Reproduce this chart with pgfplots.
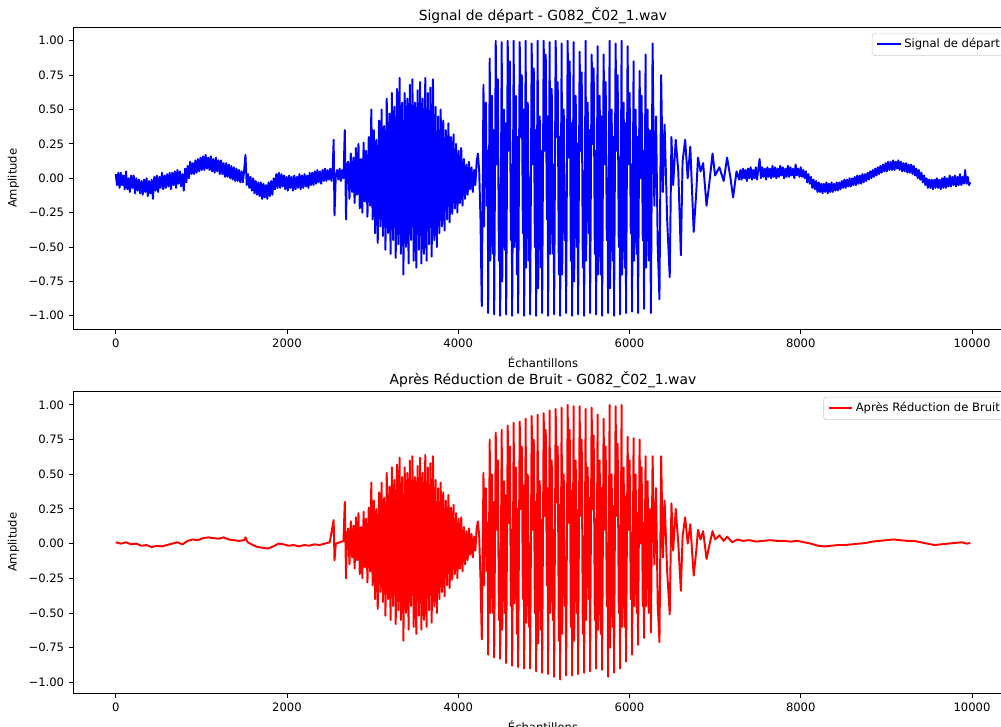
\documentclass[border=0pt]{standalone}
\usepackage{fontspec}
\setmainfont{DejaVu Sans}
\usepackage{pgfplots}
\pgfplotsset{compat=1.18}
\newcommand{\fs}{\fontsize{8.34}{10}\selectfont}
\pgfplotsset{myax/.style={
  scale only axis, width=676.8pt, height=217.8pt,
  xmin=-499, xmax=10479,
  scaled x ticks=false, scaled y ticks=false,
  xtick={0,2000,4000,6000,8000,10000},
  xticklabels={0,2000,4000,6000,8000,10000},
  ytick={-1,-0.75,-0.5,-0.25,0,0.25,0.5,0.75,1},
  yticklabels={−1.00,−0.75,−0.50,−0.25,0.00,0.25,0.50,0.75,1.00},
  tick pos=left, tick align=outside, major tick length=2.9pt,
  tick style={black, line width=0.67pt},
  axis line style={black, line width=0.67pt},
  tick label style={font=\fs},
  label style={font=\fs},
  xlabel={Échantillons}, ylabel={Amplitude},
  title style={font=\fontsize{10}{12}\selectfont, at={(0.5,1)}, anchor=base, yshift=-1.2pt},
  legend style={at={(1,1)}, anchor=north east, xshift=-4.2pt, yshift=-4.2pt, draw=black!20, rounded corners=2pt, font=\fs, inner xsep=3pt, inner ysep=2pt, fill=white},
  legend cell align=left,
  legend image code/.code={\draw[#1] (0pt,0pt) -- (16.7pt,0pt);},
}}
\begin{document}
\begin{tikzpicture}
\begin{axis}[myax, at={(52.56pt,-19.44pt)}, anchor=north west, ymin=-1.1, ymax=1.1,
  title={Signal de départ - G082\_Č02\_1.wav}]
\addplot[color={rgb,255:red,0;green,0;blue,255}, line width=1.4pt, line join=round] table[row sep=\\] {
x y\\
0 0.03\\ 15 -0.05\\ 30 0.04\\ 45 -0.07\\ 60 0.04\\ 75 -0.05\\ 90 0.02\\ 105 -0.08\\ 120 0.05\\ 135 -0.08\\
150 0.0\\ 165 -0.10\\ 180 0.02\\ 195 -0.07\\ 210 0.02\\ 225 -0.11\\ 240 0.0\\ 255 -0.09\\ 270 -0.01\\ 285 -0.11\\
300 -0.02\\ 315 -0.12\\ 330 -0.01\\ 345 -0.10\\ 360 0.0\\ 375 -0.13\\ 390 -0.02\\ 405 -0.11\\ 420 -0.01\\ 435 -0.15\\
450 0.01\\ 465 -0.09\\ 480 0.02\\ 495 -0.10\\ 510 0.01\\ 525 -0.07\\ 540 0.04\\ 555 -0.08\\ 570 0.02\\ 585 -0.07\\
600 0.03\\ 615 -0.06\\ 630 0.04\\ 645 -0.08\\ 660 0.04\\ 675 -0.05\\ 690 0.05\\ 705 -0.07\\ 720 0.06\\ 735 -0.04\\
750 0.05\\ 765 -0.06\\ 780 0.03\\ 795 -0.09\\ 810 0.07\\ 825 -0.03\\ 840 0.09\\ 855 0.0\\ 870 0.12\\ 885 0.03\\
900 0.11\\ 915 0.03\\ 930 0.13\\ 945 0.04\\ 960 0.14\\ 975 0.05\\ 990 0.15\\ 1005 0.06\\ 1020 0.16\\ 1035 0.06\\
1050 0.17\\ 1065 0.07\\ 1080 0.15\\ 1095 0.06\\ 1110 0.16\\ 1125 0.05\\ 1140 0.14\\ 1155 0.04\\ 1170 0.15\\ 1185 0.05\\
1200 0.13\\ 1215 0.03\\ 1230 0.13\\ 1245 0.03\\ 1260 0.11\\ 1275 0.01\\ 1290 0.11\\ 1305 0.01\\ 1320 0.10\\ 1335 0.0\\
1350 0.09\\ 1365 -0.01\\ 1380 0.08\\ 1395 -0.02\\ 1410 0.07\\ 1425 -0.02\\ 1440 0.06\\ 1455 -0.03\\ 1470 0.05\\ 1485 -0.03\\
1500 0.06\\ 1515 0.17\\ 1530 -0.05\\ 1545 0.03\\ 1560 -0.07\\ 1575 0.01\\ 1590 -0.09\\ 1605 0.0\\ 1620 -0.11\\ 1635 -0.02\\
1650 -0.12\\ 1665 -0.03\\ 1680 -0.13\\ 1695 -0.03\\ 1710 -0.15\\ 1725 -0.04\\ 1740 -0.14\\ 1755 -0.05\\ 1770 -0.15\\ 1785 -0.03\\
1800 -0.13\\ 1815 -0.02\\ 1830 -0.12\\ 1845 0.0\\ 1860 -0.08\\ 1875 0.03\\ 1890 -0.07\\ 1905 0.04\\ 1920 -0.07\\ 1935 0.03\\
1950 -0.06\\ 1965 0.02\\ 1980 -0.08\\ 1995 0.01\\ 2010 -0.09\\ 2025 0.02\\ 2040 -0.07\\ 2055 0.01\\ 2070 -0.09\\ 2085 0.02\\
2100 -0.08\\ 2115 0.01\\ 2130 -0.07\\ 2145 0.03\\ 2160 -0.08\\ 2175 0.02\\ 2190 -0.07\\ 2205 0.03\\ 2220 -0.06\\ 2235 0.02\\
2250 -0.07\\ 2265 0.04\\ 2280 -0.05\\ 2295 0.04\\ 2310 -0.05\\ 2325 0.05\\ 2340 -0.04\\ 2355 0.06\\ 2370 -0.03\\ 2385 0.05\\
2400 -0.04\\ 2415 0.06\\ 2430 -0.02\\ 2445 0.07\\ 2460 -0.02\\ 2475 0.06\\ 2490 -0.01\\ 2505 0.07\\ 2520 -0.02\\ 2535 0.08\\
2545 0.28\\ 2555 -0.27\\ 2570 0.02\\ 2585 0.06\\ 2600 -0.01\\ 2615 0.07\\ 2630 -0.02\\ 2645 0.06\\ 2660 0.0\\ 2675 0.35\\
2690 -0.30\\ 2700 0.10\\
2715 0.12\\ 2730 -0.15\\ 2745 0.18\\ 2760 -0.10\\ 2775 0.15\\ 2790 -0.18\\ 2805 0.22\\ 2820 -0.12\\ 2835 0.25\\ 2850 -0.22\\
2865 0.14\\ 2880 -0.25\\ 2895 0.26\\ 2910 -0.17\\ 2925 0.20\\ 2940 -0.28\\ 2955 0.30\\ 2970 -0.20\\ 2985 0.50\\ 3000 -0.30\\
3015 0.35\\ 3030 -0.40\\ 3045 0.28\\ 3060 -0.47\\ 3075 0.42\\ 3090 -0.35\\ 3105 0.50\\ 3120 -0.42\\ 3135 0.38\\ 3150 -0.52\\
3165 0.58\\ 3180 -0.40\\ 3195 0.47\\ 3210 -0.55\\ 3225 0.62\\ 3240 -0.45\\ 3255 0.52\\ 3270 -0.58\\ 3285 0.65\\ 3300 -0.48\\
3315 0.73\\ 3330 -0.55\\ 3345 0.55\\ 3360 -0.70\\ 3375 0.62\\ 3390 -0.50\\ 3405 0.58\\ 3420 -0.62\\ 3435 0.68\\ 3450 -0.45\\
3465 0.72\\ 3480 -0.60\\ 3495 0.55\\ 3510 -0.65\\ 3525 0.64\\ 3540 -0.52\\ 3555 0.70\\ 3570 -0.62\\ 3585 0.58\\ 3600 -0.55\\
3615 0.73\\ 3630 -0.60\\ 3645 0.62\\ 3660 -0.48\\ 3675 0.66\\ 3690 -0.57\\ 3705 0.72\\ 3720 -0.45\\ 3735 0.52\\ 3750 -0.50\\
3765 0.45\\ 3780 -0.40\\ 3795 0.50\\ 3810 -0.35\\ 3825 0.42\\ 3840 -0.38\\ 3855 0.35\\ 3870 -0.30\\ 3885 0.40\\ 3900 -0.32\\
3915 0.30\\ 3930 -0.26\\ 3945 0.32\\ 3960 -0.22\\ 3975 0.25\\ 3990 -0.25\\ 4005 0.20\\ 4020 -0.18\\ 4035 0.22\\ 4050 -0.20\\
4065 0.14\\ 4080 -0.15\\ 4095 0.10\\ 4110 -0.12\\ 4125 0.12\\ 4140 -0.08\\ 4155 0.08\\ 4170 -0.10\\ 4185 0.06\\ 4200 -0.05\\
4215 0.12\\ 4230 0.18\\ 4245 0.05\\ 4260 -0.30\\
4275 -0.93\\ 4295 0.68\\ 4302 -0.35\\ 4310 0.10\\ 4322 0.55\\ 4335 -0.20\\ 4343 0.20\\
4350 -0.98\\ 4368 0.87\\ 4374 -0.60\\ 4380 -0.40\\ 4392 0.60\\ 4405 -0.55\\ 4413 0.35\\
4420 -0.99\\ 4438 1.00\\ 4444 0.55\\ 4450 0.10\\ 4462 0.72\\ 4475 -0.60\\ 4483 -0.05\\
4490 -1.00\\ 4508 0.99\\ 4514 -0.75\\ 4520 -0.30\\ 4532 0.50\\ 4545 -0.52\\ 4553 0.40\\
4560 -0.99\\ 4578 1.00\\ 4584 0.60\\ 4590 0.20\\ 4602 0.85\\ 4615 -0.45\\ 4623 0.10\\
4630 -1.00\\ 4648 1.00\\ 4654 -0.50\\ 4660 -0.10\\ 4672 0.60\\ 4685 -0.70\\ 4693 0.30\\
4700 -0.98\\ 4718 0.99\\ 4724 0.70\\ 4730 0.30\\ 4742 0.75\\ 4755 -0.40\\ 4763 0.50\\
4770 -1.00\\ 4788 1.00\\ 4794 -0.65\\ 4800 -0.20\\ 4812 0.55\\ 4825 -0.60\\ 4833 0.00\\
4840 -0.99\\ 4858 0.98\\ 4864 0.50\\ 4870 0.10\\ 4882 0.80\\ 4895 -0.50\\ 4903 0.35\\
4910 -1.00\\ 4928 1.00\\ 4934 -0.80\\ 4940 -0.35\\ 4952 0.45\\ 4965 -0.65\\ 4973 0.20\\
4980 -0.98\\ 4998 1.00\\ 5004 0.65\\ 5010 0.20\\ 5022 0.90\\ 5035 -0.30\\ 5043 0.45\\
5050 -1.00\\ 5068 0.99\\ 5074 -0.55\\ 5080 -0.10\\ 5092 0.65\\ 5105 -0.55\\ 5113 0.10\\
5120 -0.99\\ 5138 1.00\\ 5144 0.75\\ 5150 0.30\\ 5162 0.70\\ 5175 -0.70\\ 5183 0.30\\
5190 -1.00\\ 5208 0.98\\ 5214 -0.70\\ 5220 -0.25\\ 5232 0.50\\ 5245 -0.45\\ 5253 -0.10\\
5260 -0.98\\ 5278 1.00\\ 5284 0.60\\ 5290 0.15\\ 5302 0.85\\ 5315 -0.60\\ 5323 0.40\\
5330 -1.00\\ 5348 0.99\\ 5354 -0.75\\ 5360 -0.30\\ 5372 0.60\\ 5385 -0.50\\ 5393 0.25\\
5400 -0.99\\ 5418 0.92\\ 5424 0.55\\ 5430 0.20\\ 5442 0.77\\ 5455 -0.65\\ 5463 0.05\\
5470 -1.00\\ 5488 1.00\\ 5494 -0.60\\ 5500 -0.10\\ 5512 0.55\\ 5525 -0.40\\ 5533 0.35\\
5540 -0.98\\ 5558 0.90\\ 5564 0.70\\ 5570 0.25\\ 5582 0.80\\ 5595 -0.55\\ 5603 0.20\\
5610 -0.99\\ 5628 0.96\\ 5634 -0.70\\ 5640 -0.20\\ 5652 0.60\\ 5665 -0.70\\ 5673 0.45\\
5680 -1.00\\ 5698 0.90\\ 5704 0.50\\ 5710 0.10\\ 5722 0.70\\ 5735 -0.45\\ 5743 0.00\\
5750 -0.98\\ 5768 1.00\\ 5774 -0.80\\ 5780 -0.30\\ 5792 0.50\\ 5805 -0.60\\ 5813 0.30\\
5820 -1.00\\ 5838 0.98\\ 5844 0.60\\ 5850 0.20\\ 5862 0.75\\ 5875 -0.50\\ 5883 0.15\\
5890 -0.99\\ 5908 1.00\\ 5914 -0.70\\ 5920 -0.15\\ 5932 0.55\\ 5945 -0.65\\ 5953 0.40\\
5960 -0.98\\ 5978 0.96\\ 5984 0.55\\ 5990 0.10\\ 6002 0.62\\ 6015 -0.40\\ 6023 0.10\\
6030 -0.97\\ 6048 0.85\\ 6054 -0.60\\ 6060 -0.20\\ 6072 0.50\\ 6085 -0.55\\ 6093 0.30\\
6100 -0.98\\ 6118 0.78\\ 6124 0.45\\ 6130 0.00\\ 6142 0.60\\ 6155 -0.45\\ 6163 0.20\\
6170 -0.95\\ 6188 0.90\\ 6194 -0.65\\ 6200 -0.10\\ 6212 0.50\\ 6225 -0.60\\ 6238 0.35\\
6250 -0.98\\ 6270 0.98\\ 6290 -0.20\\ 6310 0.45\\ 6330 -0.50\\ 6350 -0.88\\ 6370 0.75\\ 6390 -0.10\\ 6410 0.39\\ 6440 -0.30\\
6470 -0.72\\ 6490 0.30\\ 6510 -0.05\\ 6540 0.28\\ 6570 0.05\\ 6600 -0.56\\ 6620 0.12\\ 6650 0.28\\ 6680 0.00\\ 6710 0.23\\
6750 -0.39\\ 6780 -0.10\\ 6800 0.15\\ 6830 0.05\\ 6860 0.11\\ 6900 -0.20\\ 6930 -0.05\\ 6970 0.18\\ 7000 0.02\\ 7050 0.08\\
7100 -0.02\\ 7140 0.15\\ 7180 0.00\\ 7210 -0.14\\ 7250 0.05\\ 7280 -0.01\\
7295 0.06\\ 7310 -0.01\\ 7325 0.07\\ 7340 0.0\\ 7355 0.06\\ 7370 -0.02\\ 7385 0.07\\ 7400 0.0\\ 7415 0.08\\ 7430 -0.01\\
7445 0.06\\ 7460 0.0\\ 7475 0.08\\ 7490 -0.01\\ 7505 0.07\\ 7520 0.14\\ 7535 0.0\\ 7550 0.08\\ 7565 0.01\\ 7580 0.07\\
7595 -0.01\\ 7610 0.08\\ 7625 0.01\\ 7640 0.07\\ 7655 0.0\\ 7670 0.09\\ 7685 0.01\\ 7700 0.08\\ 7715 0.0\\ 7730 0.07\\
7745 0.01\\ 7760 0.09\\ 7775 0.02\\ 7790 0.08\\ 7805 0.0\\ 7820 0.07\\ 7835 0.01\\ 7850 0.09\\ 7865 0.01\\ 7880 0.08\\
7895 0.02\\ 7910 0.07\\ 7925 0.0\\ 7940 0.10\\ 7955 0.02\\ 7970 0.07\\ 7985 0.01\\ 8000 0.08\\ 8015 0.01\\ 8030 0.06\\
8045 0.0\\ 8060 0.05\\ 8075 -0.03\\ 8090 0.03\\ 8105 -0.04\\ 8120 0.01\\ 8135 -0.07\\ 8150 -0.01\\ 8165 -0.08\\ 8180 -0.02\\
8195 -0.10\\ 8210 -0.03\\ 8225 -0.10\\ 8240 -0.04\\ 8255 -0.11\\ 8270 -0.04\\ 8285 -0.10\\ 8300 -0.03\\ 8315 -0.11\\ 8330 -0.04\\
8345 -0.10\\ 8360 -0.03\\ 8375 -0.10\\ 8390 -0.04\\ 8405 -0.09\\ 8420 -0.03\\ 8435 -0.09\\ 8450 -0.03\\ 8465 -0.08\\ 8480 -0.02\\
8495 -0.07\\ 8510 -0.01\\ 8525 -0.07\\ 8540 -0.01\\ 8555 -0.06\\ 8570 0.0\\ 8585 -0.06\\ 8600 0.0\\ 8615 -0.05\\ 8630 0.01\\
8645 -0.05\\ 8660 0.02\\ 8675 -0.04\\ 8690 0.02\\ 8705 -0.04\\ 8720 0.03\\ 8735 -0.03\\ 8750 0.03\\ 8765 -0.02\\ 8780 0.04\\
8795 -0.01\\ 8810 0.05\\ 8825 0.0\\ 8840 0.06\\ 8855 0.01\\ 8870 0.07\\ 8885 0.02\\ 8900 0.08\\ 8915 0.03\\ 8930 0.09\\
8945 0.04\\ 8960 0.10\\ 8975 0.05\\ 8990 0.11\\ 9005 0.05\\ 9020 0.12\\ 9035 0.06\\ 9050 0.12\\ 9065 0.06\\ 9080 0.13\\
9095 0.06\\ 9110 0.12\\ 9125 0.07\\ 9140 0.13\\ 9155 0.06\\ 9170 0.12\\ 9185 0.05\\ 9200 0.11\\ 9215 0.05\\ 9230 0.11\\
9245 0.04\\ 9260 0.10\\ 9275 0.04\\ 9290 0.10\\ 9305 0.03\\ 9320 0.09\\ 9335 0.02\\ 9350 0.07\\ 9365 0.0\\ 9380 0.06\\
9395 -0.01\\ 9410 0.04\\ 9425 -0.03\\ 9440 0.02\\ 9455 -0.05\\ 9470 0.0\\ 9485 -0.07\\ 9500 -0.01\\ 9515 -0.07\\ 9530 -0.01\\
9545 -0.08\\ 9560 -0.01\\ 9575 -0.07\\ 9590 0.0\\ 9605 -0.07\\ 9620 -0.01\\ 9635 -0.08\\ 9650 0.0\\ 9665 -0.07\\ 9680 0.01\\
9695 -0.07\\ 9710 0.0\\ 9725 -0.06\\ 9740 0.02\\ 9755 -0.06\\ 9770 0.01\\ 9785 -0.05\\ 9800 0.02\\ 9815 -0.06\\ 9830 0.01\\
9845 -0.05\\ 9860 0.03\\ 9875 -0.05\\ 9890 0.01\\ 9905 -0.04\\ 9920 0.06\\ 9935 -0.04\\ 9950 0.01\\ 9965 -0.05\\ 9980 -0.03\\
};
\addlegendentry{Signal de départ}
\end{axis}
\begin{axis}[myax, at={(52.56pt,-281.52pt)}, anchor=north west, ymin=-1.08, ymax=1.1,
  title={Après Réduction de Bruit - G082\_Č02\_1.wav}]
\addplot[color={rgb,255:red,255;green,0;blue,0}, line width=1.4pt, line join=round] table[row sep=\\] {
x y\\
0 0.01\\ 60 0.0\\ 120 0.01\\ 180 -0.005\\ 240 0.0\\ 300 -0.015\\ 360 -0.01\\ 420 -0.025\\ 480 -0.015\\ 540 -0.02\\
600 -0.01\\ 660 0.0\\ 720 0.01\\ 780 -0.005\\ 840 0.02\\ 900 0.03\\ 960 0.025\\ 1020 0.04\\ 1080 0.045\\ 1140 0.04\\
1200 0.035\\ 1260 0.045\\ 1320 0.03\\ 1380 0.025\\ 1440 0.02\\ 1500 0.025\\ 1515 0.045\\ 1540 0.01\\ 1600 -0.01\\ 1660 -0.025\\
1720 -0.03\\ 1780 -0.035\\ 1840 -0.02\\ 1900 0.0\\ 1960 -0.005\\ 2020 -0.015\\ 2080 -0.01\\ 2140 -0.02\\ 2200 -0.01\\ 2260 -0.015\\
2320 -0.005\\ 2380 -0.01\\ 2440 0.0\\ 2500 0.01\\ 2545 0.17\\ 2555 -0.12\\ 2570 0.0\\ 2620 0.01\\ 2660 0.02\\ 2675 0.30\\
2690 -0.25\\ 2700 0.05\\
2715 0.11\\ 2730 -0.15\\ 2745 0.16\\ 2760 -0.10\\ 2775 0.13\\ 2790 -0.18\\ 2805 0.19\\ 2820 -0.12\\ 2835 0.22\\ 2850 -0.22\\
2865 0.12\\ 2880 -0.25\\ 2895 0.23\\ 2910 -0.17\\ 2925 0.18\\ 2940 -0.28\\ 2955 0.26\\ 2970 -0.20\\ 2985 0.44\\ 3000 -0.30\\
3015 0.31\\ 3030 -0.40\\ 3045 0.25\\ 3060 -0.47\\ 3075 0.37\\ 3090 -0.35\\ 3105 0.44\\ 3120 -0.42\\ 3135 0.33\\ 3150 -0.52\\
3165 0.51\\ 3180 -0.40\\ 3195 0.41\\ 3210 -0.55\\ 3225 0.55\\ 3240 -0.45\\ 3255 0.46\\ 3270 -0.58\\ 3285 0.57\\ 3300 -0.48\\
3315 0.62\\ 3330 -0.55\\ 3345 0.48\\ 3360 -0.70\\ 3375 0.55\\ 3390 -0.50\\ 3405 0.51\\ 3420 -0.62\\ 3435 0.60\\ 3450 -0.45\\
3465 0.63\\ 3480 -0.60\\ 3495 0.48\\ 3510 -0.65\\ 3525 0.56\\ 3540 -0.52\\ 3555 0.62\\ 3570 -0.62\\ 3585 0.51\\ 3600 -0.55\\
3615 0.64\\ 3630 -0.60\\ 3645 0.55\\ 3660 -0.48\\ 3675 0.58\\ 3690 -0.57\\ 3705 0.63\\ 3720 -0.45\\ 3735 0.46\\ 3750 -0.50\\
3765 0.40\\ 3780 -0.40\\ 3795 0.44\\ 3810 -0.35\\ 3825 0.37\\ 3840 -0.38\\ 3855 0.31\\ 3870 -0.30\\ 3885 0.35\\ 3900 -0.32\\
3915 0.26\\ 3930 -0.26\\ 3945 0.28\\ 3960 -0.22\\ 3975 0.22\\ 3990 -0.25\\ 4005 0.18\\ 4020 -0.18\\ 4035 0.19\\ 4050 -0.20\\
4065 0.12\\ 4080 -0.15\\ 4095 0.09\\ 4110 -0.12\\ 4125 0.11\\ 4140 -0.08\\ 4155 0.07\\ 4170 -0.10\\ 4185 0.05\\ 4200 -0.05\\
4215 0.11\\ 4230 0.16\\ 4245 0.05\\ 4260 -0.25\\
4275 -0.69\\ 4295 0.51\\ 4302 -0.30\\ 4310 0.05\\ 4322 0.40\\ 4335 -0.20\\ 4343 0.15\\
4350 -0.80\\ 4368 0.75\\ 4374 -0.50\\ 4380 -0.30\\ 4392 0.50\\ 4405 -0.50\\ 4413 0.30\\
4420 -0.82\\ 4438 0.80\\ 4444 0.45\\ 4450 0.10\\ 4462 0.60\\ 4475 -0.55\\ 4483 -0.05\\
4490 -0.83\\ 4508 0.82\\ 4514 -0.62\\ 4520 -0.25\\ 4532 0.45\\ 4545 -0.50\\ 4553 0.35\\
4560 -0.86\\ 4578 0.85\\ 4584 0.50\\ 4590 0.15\\ 4602 0.70\\ 4615 -0.45\\ 4623 0.10\\
4630 -0.88\\ 4648 0.87\\ 4654 -0.43\\ 4660 -0.10\\ 4672 0.55\\ 4685 -0.65\\ 4693 0.25\\
4700 -0.89\\ 4718 0.88\\ 4724 0.60\\ 4730 0.25\\ 4742 0.70\\ 4755 -0.40\\ 4763 0.42\\
4770 -0.90\\ 4788 0.90\\ 4794 -0.57\\ 4800 -0.20\\ 4812 0.50\\ 4825 -0.60\\ 4833 0.00\\
4840 -0.90\\ 4858 0.92\\ 4864 0.45\\ 4870 0.10\\ 4882 0.75\\ 4895 -0.50\\ 4903 0.30\\
4910 -0.92\\ 4928 0.93\\ 4934 -0.72\\ 4940 -0.30\\ 4952 0.45\\ 4965 -0.62\\ 4973 0.17\\
4980 -0.93\\ 4998 0.94\\ 5004 0.60\\ 5010 0.20\\ 5022 0.82\\ 5035 -0.30\\ 5043 0.40\\
5050 -0.94\\ 5068 0.96\\ 5074 -0.50\\ 5080 -0.10\\ 5092 0.60\\ 5105 -0.55\\ 5113 0.10\\
5120 -0.96\\ 5138 0.97\\ 5144 0.70\\ 5150 0.30\\ 5162 0.70\\ 5175 -0.70\\ 5183 0.28\\
5190 -0.98\\ 5208 0.98\\ 5214 -0.65\\ 5220 -0.25\\ 5232 0.50\\ 5245 -0.45\\ 5253 -0.10\\
5260 -0.95\\ 5278 1.00\\ 5284 0.57\\ 5290 0.15\\ 5302 0.82\\ 5315 -0.60\\ 5323 0.38\\
5330 -0.95\\ 5348 0.99\\ 5354 -0.70\\ 5360 -0.30\\ 5372 0.60\\ 5385 -0.50\\ 5393 0.24\\
5400 -0.94\\ 5418 0.99\\ 5424 0.52\\ 5430 0.20\\ 5442 0.75\\ 5455 -0.65\\ 5463 0.05\\
5470 -0.93\\ 5488 0.97\\ 5494 -0.55\\ 5500 -0.10\\ 5512 0.55\\ 5525 -0.40\\ 5533 0.33\\
5540 -0.92\\ 5558 0.98\\ 5564 0.66\\ 5570 0.25\\ 5582 0.78\\ 5595 -0.55\\ 5603 0.18\\
5610 -0.90\\ 5628 0.93\\ 5634 -0.62\\ 5640 -0.20\\ 5652 0.60\\ 5665 -0.65\\ 5673 0.40\\
5680 -0.91\\ 5698 0.90\\ 5704 0.45\\ 5710 0.10\\ 5722 0.70\\ 5735 -0.45\\ 5743 0.00\\
5750 -0.96\\ 5768 1.00\\ 5774 -0.75\\ 5780 -0.30\\ 5792 0.50\\ 5805 -0.60\\ 5813 0.27\\
5820 -0.93\\ 5838 0.99\\ 5844 0.57\\ 5850 0.20\\ 5862 0.72\\ 5875 -0.50\\ 5883 0.13\\
5890 -0.90\\ 5908 1.00\\ 5914 -0.60\\ 5920 -0.15\\ 5932 0.55\\ 5945 -0.60\\ 5953 0.34\\
5960 -0.85\\ 5978 0.77\\ 5984 0.42\\ 5990 0.10\\ 6002 0.60\\ 6015 -0.40\\ 6023 0.08\\
6030 -0.80\\ 6048 0.76\\ 6054 -0.45\\ 6060 -0.20\\ 6072 0.50\\ 6085 -0.50\\ 6093 0.22\\
6100 -0.73\\ 6118 0.75\\ 6124 0.35\\ 6130 0.00\\ 6142 0.55\\ 6155 -0.45\\ 6163 0.15\\
6170 -0.68\\ 6188 0.63\\ 6194 -0.45\\ 6200 -0.10\\ 6212 0.45\\ 6225 -0.50\\ 6238 0.25\\
6250 -0.64\\ 6270 0.63\\ 6290 -0.15\\ 6310 0.40\\ 6330 -0.45\\ 6350 -0.71\\ 6370 0.63\\ 6390 -0.10\\ 6410 0.31\\ 6440 -0.20\\
6470 -0.51\\ 6490 0.29\\ 6510 -0.05\\ 6540 0.25\\ 6570 0.00\\ 6600 -0.34\\ 6620 0.05\\ 6650 0.19\\ 6680 0.00\\ 6710 0.14\\
6750 -0.23\\ 6780 -0.05\\ 6800 0.10\\ 6830 0.03\\ 6860 0.09\\ 6900 -0.11\\ 6930 -0.02\\ 6970 0.09\\ 7000 0.03\\ 7050 0.06\\
7100 0.02\\ 7140 0.05\\ 7200 0.01\\ 7260 0.03\\
7320 0.02\\ 7400 0.025\\ 7480 0.015\\ 7560 0.02\\ 7640 0.025\\ 7720 0.02\\ 7800 0.02\\ 7880 0.015\\ 7960 0.02\\ 8040 0.01\\
8120 0.0\\ 8200 -0.015\\ 8280 -0.02\\ 8360 -0.015\\ 8440 -0.01\\ 8520 -0.01\\ 8600 -0.005\\ 8680 0.0\\ 8760 0.005\\ 8840 0.015\\
8920 0.02\\ 9000 0.025\\ 9080 0.03\\ 9160 0.025\\ 9240 0.02\\ 9320 0.02\\ 9400 0.01\\ 9480 0.0\\ 9560 -0.01\\ 9640 -0.005\\
9720 0.0\\ 9800 0.005\\ 9880 0.01\\ 9940 0.0\\ 9980 0.005\\
};
\addlegendentry{Après Réduction de Bruit}
\end{axis}
\pgfresetboundingbox
\path[use as bounding box] (0pt,0pt) rectangle (720.72pt,-523.44pt);
\end{tikzpicture}
\end{document}
